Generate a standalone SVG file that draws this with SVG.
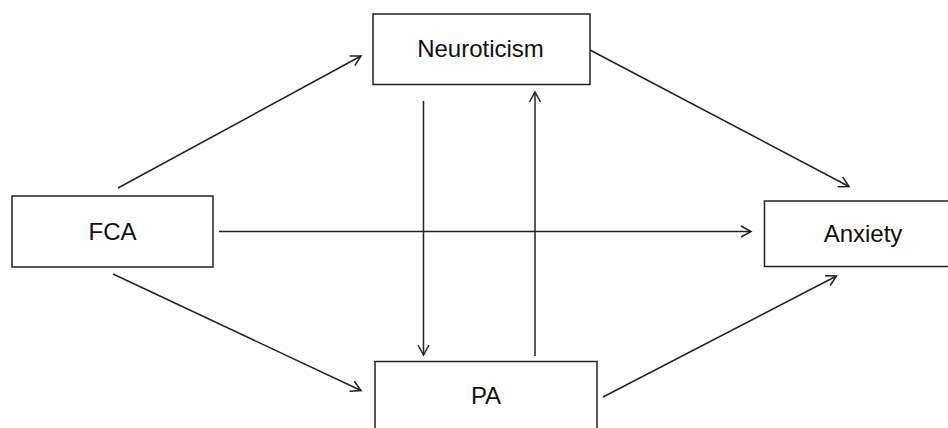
<svg xmlns="http://www.w3.org/2000/svg" width="948" height="428" viewBox="0 0 948 428">
<style>
.box{fill:#fff;stroke:#222;stroke-width:1.5}
.lbl{font-family:"Liberation Sans",Arial,sans-serif;font-size:24px;fill:#111;text-anchor:middle}
.edge{fill:none;stroke:#222;stroke-width:1.5;marker-end:url(#arr)}
</style>
<defs>
<marker id="arr" viewBox="-12 -7 14 14" refX="0" refY="0" markerWidth="14" markerHeight="14" markerUnits="userSpaceOnUse" orient="auto">
<path d="M-10,-5.5 L0,0 L-10,5.5" fill="none" stroke="#222" stroke-width="1.5"/>
</marker>
</defs>
<rect width="948" height="428" fill="#fff"/>
<g id="connectors">
<line class="edge" x1="118" y1="188" x2="361" y2="56"/>
<line class="edge" x1="113" y1="274" x2="361" y2="390.5"/>
<line class="edge" x1="219" y1="231.5" x2="751" y2="231.5"/>
<line class="edge" x1="590" y1="50" x2="849" y2="186.5"/>
<line class="edge" x1="603" y1="397" x2="836.5" y2="276"/>
<line class="edge" x1="423.5" y1="101" x2="423.5" y2="355"/>
<line class="edge" x1="535" y1="356" x2="535" y2="92"/>
</g>
<g id="neuroticism">
<rect class="box" x="373" y="14" width="217" height="70.5"/>
<text class="lbl" x="480.5" y="56.5">Neuroticism</text>
</g>
<g id="fca">
<rect class="box" x="12" y="196" width="201" height="71"/>
<text class="lbl" x="112.5" y="240">FCA</text>
</g>
<g id="anxiety">
<rect class="box" x="764.5" y="201" width="190" height="65.5"/>
<text class="lbl" x="863" y="241.5">Anxiety</text>
</g>
<g id="pa">
<rect class="box" x="375" y="361.5" width="222" height="80"/>
<text class="lbl" x="486" y="404">PA</text>
</g>
</svg>
